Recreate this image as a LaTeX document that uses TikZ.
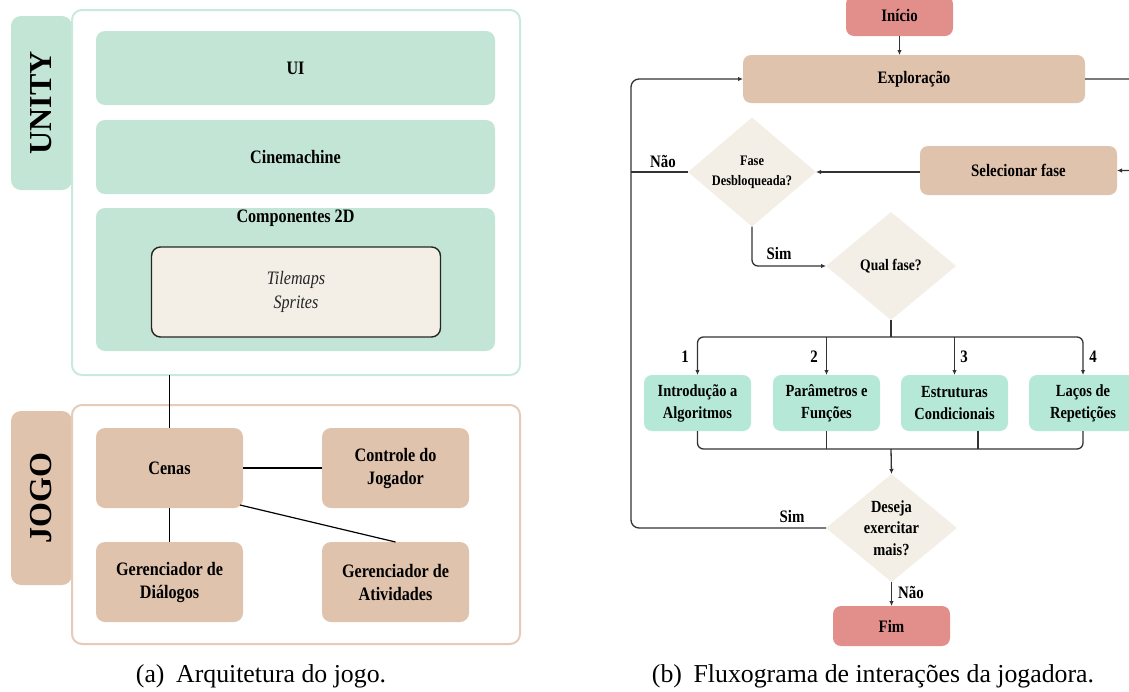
\documentclass[tikz,border=0pt]{standalone}
\usepackage{fontspec}
\setmainfont{Liberation Serif}
\newfontfamily\df[FakeStretch=0.85]{Liberation Serif}
\usetikzlibrary{shapes.geometric,arrows.meta,calc}
\definecolor{ugreen}{HTML}{C3E5D5}
\definecolor{ugreenline}{HTML}{C9E9DB}
\definecolor{tan}{HTML}{E0C3AD}
\definecolor{tanline}{HTML}{E6CBB8}
\definecolor{cream}{HTML}{F3EFE6}
\definecolor{mint}{HTML}{B5E8D6}
\definecolor{rose}{HTML}{E28F8B}
\definecolor{lgray}{HTML}{333333}
\newcommand\fsz[2]{\fontsize{#1}{#2}\selectfont}
\tikzset{
  box/.style={rectangle, rounded corners=9pt, inner sep=0pt, outer sep=0pt, align=center, text=black},
  ubox/.style={box, fill=ugreen, minimum width=399pt, font=\df\bfseries\fsz{19}{23}},
  jbox/.style={box, fill=tan, minimum width=147pt, minimum height=80pt, font=\df\bfseries\fsz{19}{23}},
  tabbox/.style={box, rounded corners=10pt, minimum width=61pt, minimum height=174pt},
  tablbl/.style={rotate=90, font=\bfseries\fsz{32}{36}, inner sep=0pt},
  outerbox/.style={box, rounded corners=10pt, fill=white, line width=2pt, minimum width=448pt},
  fbox/.style={box, rounded corners=8pt, font=\df\bfseries\fsz{17.5}{21}},
  lvl/.style={box, rounded corners=8pt, fill=mint, minimum width=107pt, minimum height=56pt, font=\df\bfseries\fsz{17}{22}},
  dia/.style={diamond, aspect=1.2, fill=cream, inner sep=0pt, outer sep=0pt, align=center, font=\df\bfseries},
  lbl/.style={inner sep=0pt, font=\df\bfseries\fsz{17.5}{21}},
  flow/.style={draw=lgray, line width=1.3pt},
  arr/.style={flow, -{Latex[length=5pt,width=4.5pt]}},
  conn/.style={draw=black, line width=1.2pt},
  captxt/.style={inner sep=0pt, font=\fsz{25.8}{30}}
}
\begin{document}
\begin{tikzpicture}[x=1pt,y=-1pt]
\useasboundingbox (0,0) rectangle (1129,691);
% ---------------- UNITY ----------------
\node[tabbox, fill=ugreen] (utab) at (41.5,103) {};
\node[tablbl] (utxt) at (41,103) {UNITY};
\node[outerbox, draw=ugreenline, minimum height=365pt] (uo) at (296,192.5) {};
\node[ubox, minimum height=74pt] (ui) at (295.5,68) {UI};
\node[ubox, minimum height=74pt] (cine) at (295.5,157) {Cinemachine};
\node[ubox, minimum height=143pt] (comp) at (295.5,279.5) {};
\node[inner sep=0pt, font=\df\bfseries\fsz{19}{23}] (comptitle) at (295.5,218) {Componentes 2D};
\node[box, fill=cream, draw=black!85, line width=1.4pt, minimum width=289pt, minimum height=90pt,
      font=\df\itshape\fsz{19}{24}, text=black!85] (tile) at (296,292) {Tilemaps\\Sprites};
% ---------------- JOGO ----------------
\node[tabbox, fill=tan] (jtab) at (41.5,498) {};
\node[tablbl] (jtxt) at (41,498) {JOGO};
\node[outerbox, draw=tanline, minimum height=239pt] (jo) at (296,524.5) {};
\node[jbox] (cenas) at (169.5,468) {Cenas};
\node[jbox] (ctrl) at (395.5,468) {Controle do\\Jogador};
\node[jbox] (dial) at (169.5,582) {Gerenciador de\\Di\'alogos};
\node[jbox] (ativ) at (395.5,582) {Gerenciador de\\Atividades};
\draw[conn] (cenas.north |- uo.south) -- (cenas.north);
\draw[conn] (cenas.east) -- (ctrl.west);
\draw[conn] (cenas.south) -- (dial.north);
\draw[conn] ($(cenas.south east)+(-3,-3)$) -- (ativ.north);
% ---------------- Flowchart ----------------
\node[fbox, fill=rose, minimum width=107pt, minimum height=40pt] (ini) at (899.5,16) {Início};
\node[fbox, fill=tan, minimum width=342pt, minimum height=48pt] (exp) at (914,79) {Exploração};
\node[fbox, fill=tan, minimum width=197pt, minimum height=49pt] (sel) at (1018.5,170.5) {Selecionar fase};
\node[dia, minimum width=128pt, minimum height=109pt, font=\df\bfseries\fsz{14.5}{20}] (fd) at (752,172) {Fase\\Desbloqueada?};
\node[dia, minimum width=130pt, minimum height=108pt, font=\df\bfseries\fsz{16}{20}] (qf) at (891,266) {Qual fase?};
\node[lvl] (l1) at (697.5,403) {Introdução a\\Algoritmos};
\node[lvl] (l2) at (826.5,403) {Parâmetros e\\Funções};
\node[lvl] (l3) at (954.5,403) {Estruturas\\Condicionais};
\node[lvl, minimum width=108pt] (l4) at (1083,403) {Laços de\\Repetições};
\node[dia, minimum width=131pt, minimum height=108pt, font=\df\bfseries\fsz{17}{21.5}] (de) at (891.5,528) {Deseja\\exercitar\\mais?};
\node[fbox, fill=rose, minimum width=117pt, minimum height=40pt] (fim) at (891.5,626) {Fim};
\coordinate (br) at (891,337);
\coordinate (mg) at (891,449);
% connectors
\draw[arr] (ini.south) -- (ini.south |- exp.north);
\draw[arr, rounded corners=6pt] (exp.east) -- ++(70,0) |- (sel.east);
\draw[arr] (sel.west |- fd.east) -- (fd.east);
\draw[flow] (fd.west) -- ++(-57,0);
\draw[arr, rounded corners=6pt] (fd.south) |- (qf.west);
\draw[flow] (qf.south) -- (br);
\draw[arr, rounded corners=6pt] (br) -| (l1.north);
\draw[arr, rounded corners=6pt] (br) -| (l4.north);
\draw[arr] (l2.north |- br) -- (l2.north);
\draw[arr] (l3.north |- br) -- (l3.north);
\draw[flow, rounded corners=6pt] (l1.south) |- (mg) -| (l4.south);
\draw[flow] (l2.south) -- (l2.south |- mg);
\draw[flow] ($(l3.south)+(23.5,0)$) -- ($(l3.south |- mg)+(23.5,0)$);
\draw[arr] (mg) -- (de.north);
\draw[arr, rounded corners=8pt] (de.west) -- ++(-195,0) |- (exp.west);
\draw[arr] (de.south) -- (fim.north);
% labels
\node[lbl] (nao1) at (663,161) {Não};
\node[lbl] (sim1) at (779,254) {Sim};
\node[lbl] (n1) at (685,357) {1};
\node[lbl] (n2) at (814,357) {2};
\node[lbl] (n3) at (964,357) {3};
\node[lbl] (n4) at (1093,357) {4};
\node[lbl] (sim2) at (792,517) {Sim};
\node[lbl] (nao2) at (911,592) {Não};
% captions
\node[captxt] (capa) at (261,676) {(a)\hspace{0.45em}Arquitetura do jogo.};
\node[captxt] (capb) at (873,676) {(b)\hspace{0.45em}Fluxograma de interações da jogadora.};
\end{tikzpicture}
\end{document}
